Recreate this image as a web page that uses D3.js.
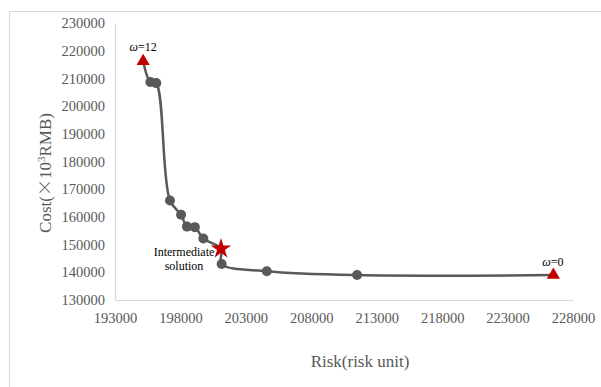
<!DOCTYPE html>
<html>
<head>
<meta charset="utf-8">
<script src="https://cdn.jsdelivr.net/npm/d3@7"></script>
<style>
  body { margin: 0; background: #fff; }
  svg { display: block; font-family: "Liberation Serif", "Times New Roman", serif; }
</style>
</head>
<body>
<svg id="chart" width="601" height="387"></svg>
<script>
// Pareto points, ordered from omega=12 to omega=0
const risk = [195150, 195700, 196150, 197200, 198050, 198500, 199100, 199750, 201100, 201150, 204600, 211500, 226500];
const cost = [216200, 208700, 208300, 165900, 160800, 156500, 156300, 152200, 148500, 143000, 140400, 139000, 139000];
const markerType = ["tri", "dot", "dot", "dot", "dot", "dot", "dot", "dot", "star", "dot", "dot", "dot", "tri"];
const yTicks = [130000, 140000, 150000, 160000, 170000, 180000, 190000, 200000, 210000, 220000, 230000];
const xTicks = [193000, 198000, 203000, 208000, 213000, 218000, 223000, 228000];

const svg = d3.select("#chart");
const grey = "#595959";
const red = "#c00000";

// outer chart frame
svg.append("rect")
  .attr("x", 9.5).attr("y", 11.5)
  .attr("width", 620).attr("height", 400)
  .attr("fill", "none").attr("stroke", "#d9d9d9");

const x = d3.scaleLinear().domain([193000, 228000]).range([115, 573]);
const y = d3.scaleLinear().domain([130000, 230000]).range([300, 23]);

// axes
svg.append("g")
  .attr("transform", "translate(0,300)")
  .call(d3.axisBottom(x).tickValues(xTicks).tickSize(0).tickPadding(13).tickFormat(d3.format("d")))
  .call(g => g.select(".domain").attr("stroke", "#d9d9d9").attr("stroke-width", 1.2))
  .call(g => g.selectAll("text").attr("fill", grey).style("font-size", "14.5px").style("font-family", "Liberation Serif"));

svg.append("g")
  .attr("transform", "translate(115,0)")
  .call(d3.axisLeft(y).tickValues(yTicks).tickSize(0).tickPadding(10).tickFormat(d3.format("d")))
  .call(g => g.select(".domain").attr("stroke", "#d9d9d9").attr("stroke-width", 1.2))
  .call(g => g.selectAll("text").attr("fill", grey).style("font-size", "14.5px").style("font-family", "Liberation Serif"));

// axis titles
const yTitle = svg.append("text")
  .attr("transform", "translate(51,173) rotate(-90)")
  .attr("text-anchor", "middle")
  .attr("fill", grey)
  .style("font-size", "17px");
yTitle.append("tspan").text("Cost(");
yTitle.append("tspan").style("font-family", "Noto Sans CJK SC").style("font-weight", 300).text("\u00D7");
yTitle.append("tspan").text("10");
yTitle.append("tspan").attr("dy", -6).style("font-size", "11px").text("3");
yTitle.append("tspan").attr("dy", 6).text("RMB)");

svg.append("text")
  .attr("x", 360).attr("y", 367)
  .attr("text-anchor", "middle")
  .attr("fill", grey)
  .style("font-size", "17px")
  .text("Risk(risk unit)");

const pts = risk.map((r, i) => ({ r, c: cost[i], t: markerType[i] }));

// smoothed line
const line = d3.line()
  .x(d => x(d.r)).y(d => y(d.c))
  .curve(d3.curveCatmullRom.alpha(0.5));
svg.append("path")
  .datum(pts)
  .attr("d", line)
  .attr("fill", "none")
  .attr("stroke", grey)
  .attr("stroke-width", 2.5);

// markers
svg.selectAll(".dot")
  .data(pts.filter(d => d.t === "dot"))
  .join("circle")
  .attr("class", "dot")
  .attr("cx", d => x(d.r)).attr("cy", d => y(d.c))
  .attr("r", 5)
  .attr("fill", grey);

svg.selectAll(".tri")
  .data(pts.filter(d => d.t === "tri"))
  .join("path")
  .attr("class", "tri")
  .attr("transform", d => `translate(${x(d.r)},${y(d.c)})`)
  .attr("d", d3.symbol(d3.symbolTriangle, 75))
  .attr("fill", red);

svg.selectAll(".star")
  .data(pts.filter(d => d.t === "star"))
  .join("path")
  .attr("class", "star")
  .attr("transform", d => `translate(${x(d.r)},${y(d.c)})`)
  .attr("d", d3.symbol(d3.symbolStar, 130))
  .attr("fill", red);

// annotations
const omegaLabel = (px, py, val) => {
  const t = svg.append("text")
    .attr("x", px).attr("y", py)
    .attr("text-anchor", "middle")
    .attr("fill", "#000")
    .style("font-size", "12px");
  t.append("tspan").style("font-style", "italic").text("\u03C9");
  t.append("tspan").text("=" + val);
};
omegaLabel(x(risk[0]), 51, "12");
omegaLabel(x(risk[risk.length - 1]) - 0.5, 266, "0");

const inter = svg.append("text")
  .attr("text-anchor", "middle")
  .attr("fill", "#000")
  .style("font-size", "12px");
inter.append("tspan").attr("x", 184).attr("y", 256).text("Intermediate");
inter.append("tspan").attr("x", 184).attr("y", 270).text("solution");
</script>
</body>
</html>
